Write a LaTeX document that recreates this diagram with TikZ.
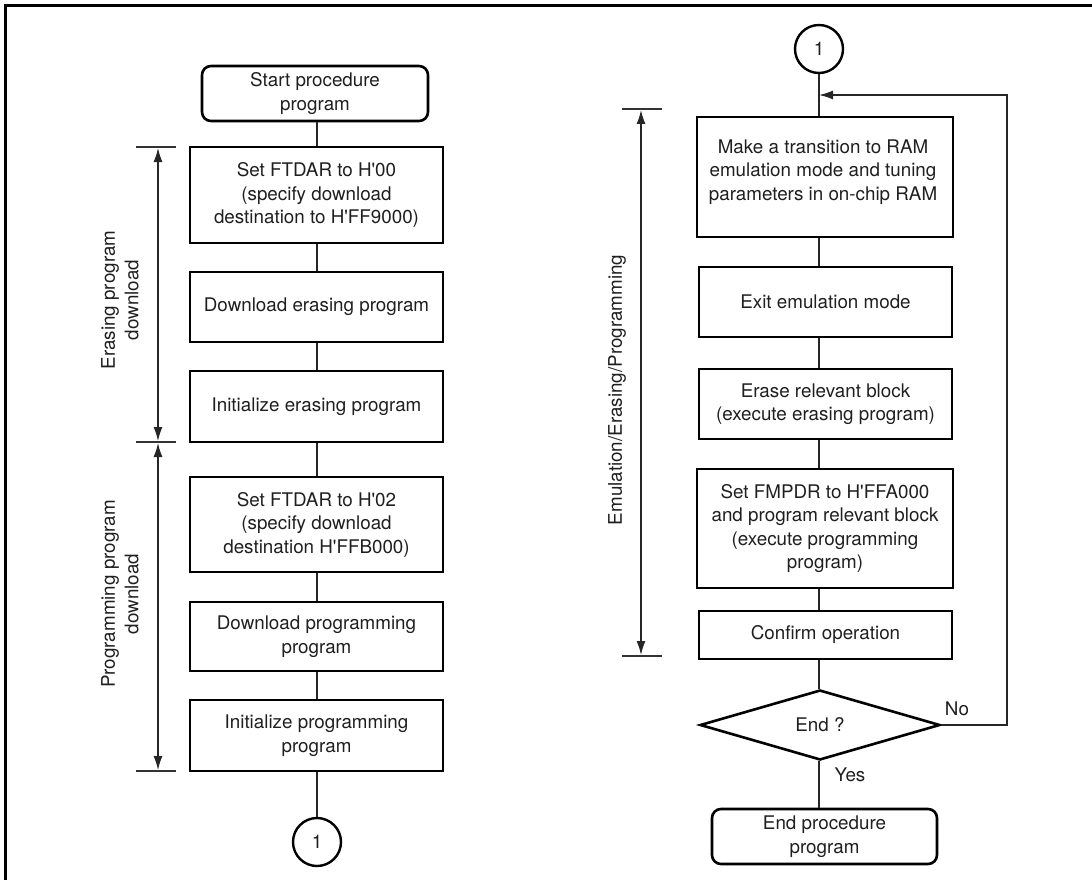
\documentclass[tikz,border=0pt]{standalone}
\usepackage{fontspec}
\newfontfamily\plainfont{TeX Gyre Heros}
\usetikzlibrary{shapes.geometric,arrows.meta}
\begin{document}
\begin{tikzpicture}[x=1pt,y=-1pt,
  every node/.style={font=\plainfont\fontsize{18.8}{23.5}\selectfont, text=black!88, align=center, inner sep=0pt},
  box/.style={draw=black, line width=2.6pt, rectangle, minimum width=#1},
  box/.default=254,
  rbox/.style={draw=black, line width=2.6pt, rectangle, rounded corners=9pt},
  conn/.style={draw=black!85, line width=1.4pt},
  dim/.style={draw=black!85, line width=1.4pt, {Latex[length=14pt,width=9pt]}-{Latex[length=14pt,width=9pt]}},
  tick/.style={draw=black!80, line width=1.4pt},
  conncirc/.style={draw=black, line width=2.4pt, circle, minimum size=48pt},
  dec/.style={draw=black, line width=2.6pt, diamond, aspect=3.43, minimum width=240pt, minimum height=70pt}
]
\useasboundingbox (0,0) rectangle (1092,880);
% frame (top and left edges)
\draw[line width=3pt, black] (5,880) -- (5,6) -- (1092,6);

% ---------- left column ----------
\node[rbox, minimum width=226pt, minimum height=55pt] (s) at (315,93.5) {Start procedure\\program};
\node[box=253, minimum height=96pt] (b1) at (316.5,195) {Set FTDAR to H'00\\(specify download\\destination to H'FF9000)};
\node[box=253, minimum height=70pt] (b2) at (316.5,307) {Download erasing program};
\node[box=253, minimum height=71pt] (b3) at (316.5,406.5) {Initialize erasing program};
\node[box=253, minimum height=95pt] (b4) at (316.5,524.5) {Set FTDAR to H'02\\(specify download\\destination H'FFB000)};
\node[box=253, minimum height=69pt] (b5) at (316.5,636.5) {Download programming\\program};
\node[box=253, minimum height=71pt] (b6) at (316.5,735.5) {Initialize programming\\program};
\node[conncirc] (c1) at (317,842) {1};

\coordinate (lx) at (317,0);
\draw[conn] (s.south -| lx) -- (b1.north -| lx);
\draw[conn] (b1.south -| lx) -- (b2.north -| lx);
\draw[conn] (b2.south -| lx) -- (b3.north -| lx);
\draw[conn] (b3.south -| lx) -- (b4.north -| lx);
\draw[conn] (b4.south -| lx) -- (b5.north -| lx);
\draw[conn] (b5.south -| lx) -- (b6.north -| lx);
\draw[conn] (b6.south -| lx) -- (c1.north);

% left dimension marks
\coordinate (t1a) at (136,147); \coordinate (t1b) at (176,147);
\coordinate (t2a) at (136,442); \coordinate (t2b) at (176,442);
\coordinate (t3a) at (136,771); \coordinate (t3b) at (176,771);
\draw[tick] (t1a) -- (t1b);
\draw[tick] (t2a) -- (t2b);
\draw[tick] (t3a) -- (t3b);
\coordinate (d1a) at (158,148); \coordinate (d1b) at (158,441);
\coordinate (d2a) at (158,443); \coordinate (d2b) at (158,770);
\draw[dim] (d1a) -- (d1b);
\draw[dim] (d2a) -- (d2b);
\node[rotate=90] (le) at (120,300) {Erasing program\\download};
\node[rotate=90] (lp) at (120,594) {Programming program\\download};

% ---------- right column ----------
\node[conncirc] (c2) at (819,49) {1};
\node[box=256, minimum height=120pt] (r1) at (825,177) {};
\node (r1t) at (823,172) {Make a transition to RAM\\emulation mode and tuning\\parameters in on-chip RAM};
\node[box=253, minimum height=70pt] (r2) at (825.5,302) {Exit emulation mode};
\node[box=253, minimum height=70pt] (r3) at (825.5,404) {Erase relevant block\\(execute erasing program)};
\node[box=256, minimum height=119pt] (r4) at (825,528.5) {Set FMPDR to H'FFA000\\and program relevant block\\(execute programming\\program)};
\node[box=253, minimum height=48pt] (r5) at (825.5,635) {Confirm operation};
\node[dec] (d) at (820,725) {End ?};
\node[rbox, minimum width=225pt, minimum height=55pt] (e) at (824.5,836.5) {End procedure\\program};

\coordinate (rx) at (819,0);
\coordinate (fb) at (819,95);
\coordinate (loopx) at (1007,0);
\draw[conn] (c2.south) -- (r1.north -| rx);
\draw[conn] (r1.south -| rx) -- (r2.north -| rx);
\draw[conn] (r2.south -| rx) -- (r3.north -| rx);
\draw[conn] (r3.south -| rx) -- (r4.north -| rx);
\draw[conn] (r4.south -| rx) -- (r5.north -| rx);
\draw[conn] (r5.south -| rx) -- (d.north -| rx);
\draw[conn] (d.south -| rx) -- (e.north -| rx);
\draw[conn, -{Latex[length=14pt,width=9pt]}] (d.east) -- (d.east -| loopx) -- (fb -| loopx) -- (fb);
\node (no) at (957,709) {No};
\node (yes) at (850,775) {Yes};

% right dimension marks
\coordinate (t4a) at (622,109); \coordinate (t4b) at (662,109);
\coordinate (t5a) at (622,656); \coordinate (t5b) at (662,656);
\draw[tick] (t4a) -- (t4b);
\draw[tick] (t5a) -- (t5b);
\coordinate (d3a) at (641,110); \coordinate (d3b) at (641,655);
\draw[dim] (d3a) -- (d3b);
\node[rotate=90] (lr) at (617,390) {Emulation/Erasing/Programming};
\end{tikzpicture}
\end{document}
